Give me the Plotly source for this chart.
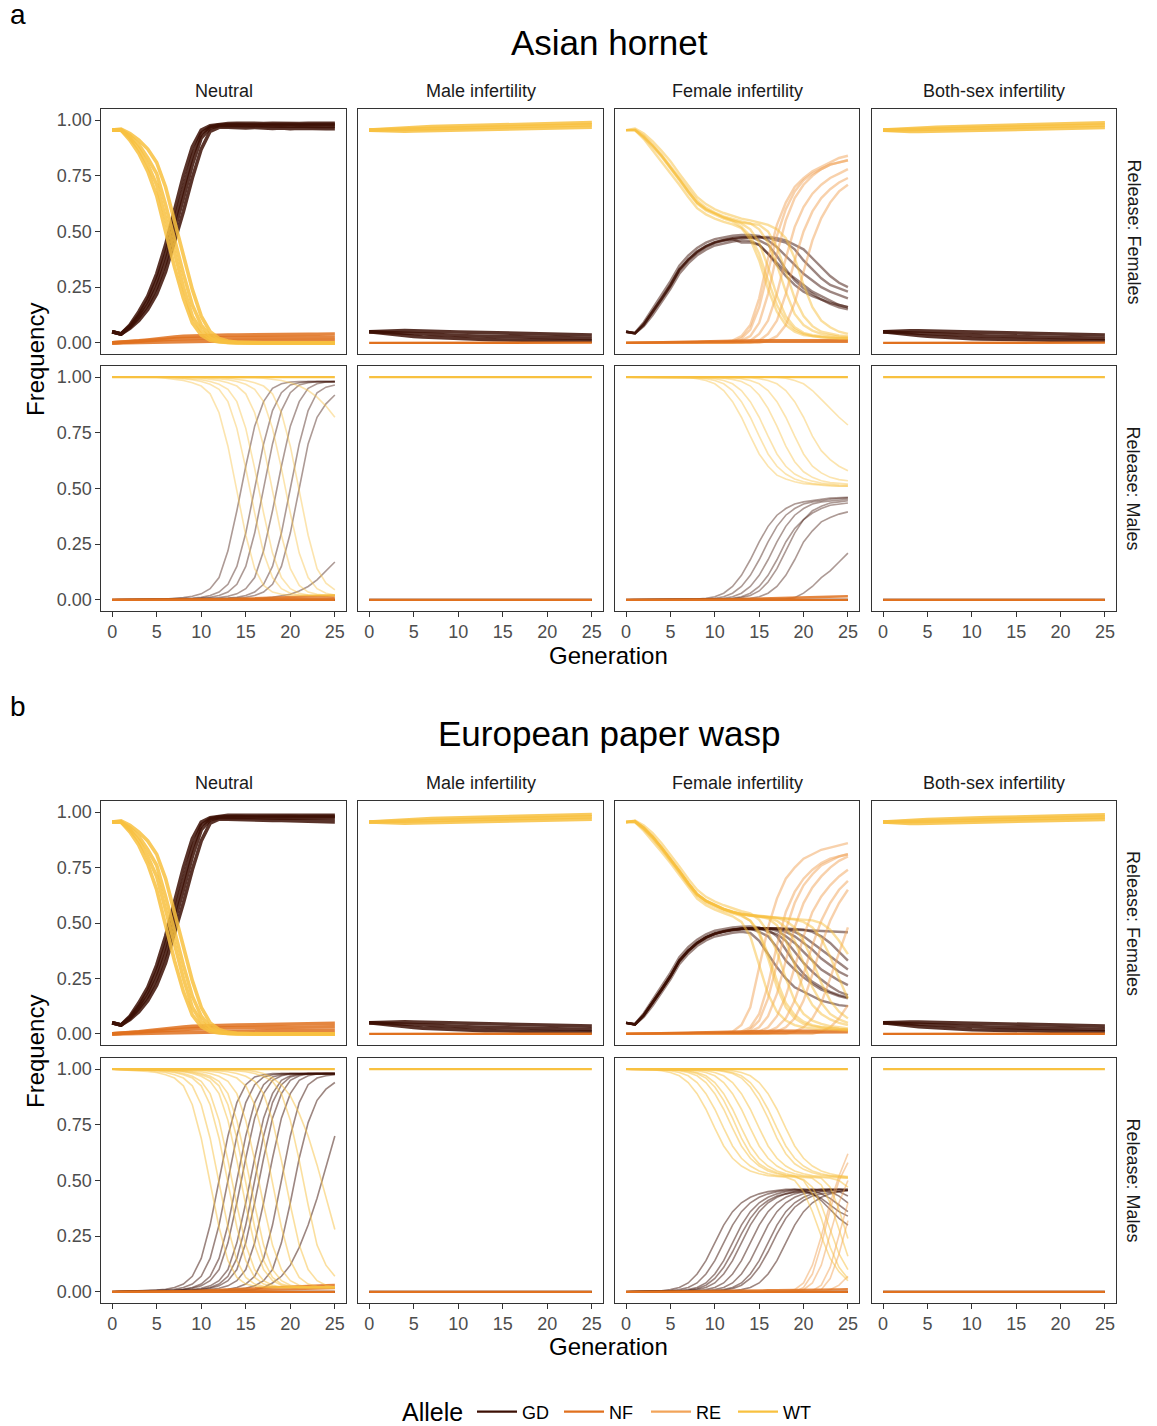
import plotly.graph_objects as go

W, H = 1157, 1426

# ---------------- categories / ticks ----------------
GEN = [0, 1, 2, 3, 4, 5, 6, 7, 8, 9, 10, 11, 12, 13, 14, 15, 16, 17, 18, 19, 20, 21, 22, 23, 24, 25]
X_TICKS = [0, 5, 10, 15, 20, 25]
Y_TICKS = [0.0, 0.25, 0.5, 0.75, 1.0]
Y_TICK_LABELS = ["0.00", "0.25", "0.50", "0.75", "1.00"]
SPECIES = ["Asian hornet", "European paper wasp"]
PANEL_TAGS = ["a", "b"]
TREATMENTS = ["Neutral", "Male infertility", "Female infertility", "Both-sex infertility"]
RELEASES = ["Release: Females", "Release: Males"]
ALLELES = ["GD", "NF", "RE", "WT"]
LEGEND_TITLE = "Allele"
COLORS = {"GD": "#3D1005", "NF": "#E0711F", "RE": "#F2A45A", "WT": "#F8C140"}

# ---------------- flat (no spread) ----------------
flat_WT = [[1, 1, 1, 1, 1, 1, 1, 1, 1, 1, 1, 1, 1, 1, 1, 1, 1, 1, 1, 1, 1, 1, 1, 1, 1, 1]]
flat_GD = [[0, 0, 0, 0, 0, 0, 0, 0, 0, 0, 0, 0, 0, 0, 0, 0, 0, 0, 0, 0, 0, 0, 0, 0, 0, 0]]
flat_NF = [[0, 0, 0, 0, 0, 0, 0, 0, 0, 0, 0, 0, 0, 0, 0, 0, 0, 0, 0, 0, 0, 0, 0, 0, 0, 0]]

# ---------------- Asian hornet, release females ----------------
hornet_F_neu_WT = [
    [.955, .955, .91, .85, .77, .66, .50, .34, .20, .09, .035, .012, .004, 0, 0, 0, 0, 0, 0, 0, 0, 0, 0, 0, 0, 0],
    [.955, .955, .92, .87, .80, .71, .56, .40, .25, .12, .055, .02, .007, .002, 0, 0, 0, 0, 0, 0, 0, 0, 0, 0, 0, 0],
    [.955, .955, .93, .89, .83, .76, .62, .46, .31, .17, .08, .03, .01, .003, .001, 0, 0, 0, 0, 0, 0, 0, 0, 0, 0, 0],
    [.955, .96, .94, .91, .87, .81, .70, .55, .39, .24, .12, .05, .02, .008, .003, .001, 0, 0, 0, 0, 0, 0, 0, 0, 0, 0],
]
hornet_F_neu_GD = [
    [.05, .04, .08, .14, .21, .31, .44, .60, .75, .88, .955, .975, .982, .985, .986, .985, .986, .985, .986, .985, .986, .985, .986, .985, .986, .986],
    [.05, .04, .075, .125, .19, .28, .40, .55, .70, .84, .94, .97, .978, .98, .98, .979, .98, .98, .979, .98, .98, .979, .98, .98, .979, .98],
    [.05, .04, .07, .115, .17, .25, .36, .50, .65, .80, .92, .965, .975, .976, .975, .974, .975, .973, .974, .973, .974, .972, .973, .972, .972, .972],
    [.05, .04, .065, .10, .15, .22, .32, .45, .59, .74, .87, .95, .968, .968, .966, .965, .967, .964, .963, .965, .962, .964, .962, .963, .961, .962],
]
hornet_F_neu_NF = [
    [0, .001, .002, .003, .004, .005, .006, .007, .008, .008, .009, .009, .01, .01, .01, .01, .01, .01, .01, .01, .01, .01, .01, .01, .01, .01],
    [0, .002, .004, .006, .009, .012, .015, .018, .02, .021, .022, .022, .023, .023, .023, .023, .024, .024, .024, .024, .024, .024, .024, .024, .024, .024],
    [0, .002, .005, .009, .013, .018, .022, .026, .029, .031, .032, .033, .034, .035, .035, .036, .036, .037, .037, .038, .038, .038, .039, .039, .04, .04],
]
hornet_F_male_WT = [
    [.955, .958, .961, .963, .965, .967, .969, .971, .972, .973, .974, .975, .976, .977, .978, .979, .98, .981, .982, .983, .984, .985, .986, .987, .988, .989],
    [.955, .956, .957, .958, .959, .960, .961, .962, .963, .964, .965, .966, .967, .968, .969, .970, .971, .972, .973, .974, .975, .976, .977, .978, .978, .979],
    [.955, .953, .952, .951, .950, .951, .952, .953, .953, .954, .955, .956, .957, .958, .959, .960, .961, .962, .962, .963, .964, .965, .966, .967, .967, .968],
]
hornet_F_male_GD = [
    [.05, .052, .054, .055, .055, .054, .054, .053, .052, .05, .049, .048, .047, .046, .045, .044, .043, .042, .041, .04, .039, .038, .037, .036, .035, .035],
    [.05, .048, .046, .044, .042, .04, .038, .036, .035, .034, .033, .032, .031, .03, .029, .028, .027, .026, .025, .024, .023, .022, .022, .021, .02, .02],
    [.05, .045, .04, .036, .032, .029, .026, .024, .022, .02, .018, .017, .016, .015, .014, .013, .012, .011, .011, .01, .01, .009, .009, .008, .008, .008],
]
hornet_F_male_NF = [
    [0, 0, .001, .001, .001, .001, .001, .001, .001, .001, .001, .001, .001, .001, .001, .001, .001, .001, .001, .001, .001, .001, .001, .001, .001, .001],
]
hornet_F_both_WT = [
    [.955, .958, .96, .962, .964, .966, .968, .97, .971, .972, .973, .974, .975, .976, .977, .978, .979, .98, .981, .982, .983, .984, .985, .986, .987, .988],
    [.955, .955, .956, .957, .958, .959, .96, .961, .962, .963, .964, .965, .966, .967, .968, .969, .97, .971, .972, .973, .974, .975, .976, .977, .977, .978],
    [.955, .952, .95, .949, .949, .95, .951, .952, .953, .954, .955, .956, .957, .957, .958, .959, .96, .961, .962, .963, .964, .964, .965, .966, .967, .967],
]
hornet_F_both_GD = [
    [.05, .052, .053, .054, .054, .053, .053, .052, .051, .05, .049, .048, .047, .046, .045, .044, .043, .042, .041, .04, .039, .038, .037, .036, .036, .035],
    [.05, .048, .046, .044, .042, .04, .038, .037, .035, .034, .033, .032, .031, .03, .029, .028, .027, .026, .025, .024, .024, .023, .022, .021, .021, .02],
    [.05, .045, .041, .037, .033, .03, .027, .025, .023, .021, .019, .018, .017, .016, .015, .014, .013, .012, .012, .011, .011, .01, .01, .009, .009, .009],
]
hornet_F_both_NF = [
    [0, 0, .001, .001, .001, .001, .001, .001, .001, .001, .001, .001, .001, .001, .001, .001, .001, .001, .001, .001, .001, .001, .001, .001, .001, .001],
]
hornet_F_fem_WT = [
    [.955, .955, .915, .865, .815, .765, .71, .655, .605, .577, .558, .543, .532, .515, .465, .37, .24, .14, .08, .05, .035, .03, .025, .022, .02, .02],
    [.955, .955, .925, .885, .84, .79, .735, .68, .63, .60, .58, .563, .55, .535, .51, .45, .34, .21, .12, .07, .045, .035, .03, .025, .022, .02],
    [.955, .958, .93, .89, .845, .795, .742, .69, .64, .607, .585, .568, .555, .545, .537, .51, .45, .35, .23, .13, .08, .055, .04, .033, .028, .025],
    [.955, .955, .925, .885, .84, .79, .735, .68, .63, .60, .58, .563, .55, .54, .535, .53, .50, .43, .32, .20, .12, .075, .05, .04, .033, .03],
    [.955, .962, .94, .905, .862, .815, .76, .705, .655, .623, .60, .583, .57, .558, .55, .54, .53, .51, .47, .38, .26, .16, .10, .07, .05, .04],
    [.955, .955, .92, .88, .835, .785, .73, .675, .625, .595, .575, .558, .545, .52, .48, .40, .28, .17, .10, .06, .04, .03, .025, .022, .02, .02],
]
hornet_F_fem_GD = [
    [.05, .042, .075, .125, .183, .243, .31, .357, .393, .418, .437, .447, .455, .46, .458, .44, .40, .36, .32, .29, .26, .23, .21, .19, .17, .16],
    [.05, .043, .085, .14, .20, .26, .33, .375, .41, .435, .452, .462, .47, .474, .475, .46, .44, .39, .33, .28, .245, .22, .195, .175, .16, .15],
    [.05, .045, .093, .153, .215, .277, .347, .392, .426, .45, .466, .475, .481, .484, .485, .48, .46, .43, .39, .35, .31, .28, .25, .23, .215, .20],
    [.05, .043, .085, .14, .20, .26, .33, .375, .41, .435, .452, .462, .47, .474, .475, .475, .47, .46, .45, .42, .37, .33, .29, .26, .245, .23],
    [.05, .042, .08, .135, .195, .255, .325, .37, .405, .43, .448, .458, .465, .47, .472, .474, .475, .47, .46, .44, .42, .38, .34, .30, .27, .25],
    [.05, .043, .082, .138, .198, .258, .328, .372, .407, .432, .45, .46, .466, .45, .45, .44, .40, .35, .30, .26, .23, .21, .195, .18, .17, .16],
]
hornet_F_fem_RE = [
    [0, 0, 0, 0, 0, 0, 0, 0, 0, 0, 0, .005, .01, .03, .08, .20, .38, .53, .63, .70, .74, .77, .79, .81, .83, .84],
    [0, 0, 0, 0, 0, 0, 0, 0, 0, 0, 0, 0, 0, .01, .03, .09, .22, .40, .55, .65, .71, .75, .78, .80, .81, .82],
    [0, 0, 0, 0, 0, 0, 0, 0, 0, 0, 0, 0, 0, 0, .01, .04, .10, .22, .38, .52, .61, .67, .71, .74, .76, .78],
    [0, 0, 0, 0, 0, 0, 0, 0, 0, 0, 0, 0, 0, 0, 0, .01, .04, .10, .22, .37, .50, .59, .65, .69, .72, .74],
    [0, 0, 0, 0, 0, 0, 0, 0, 0, 0, 0, 0, 0, 0, 0, 0, .01, .03, .08, .18, .32, .46, .56, .63, .68, .71],
    [0, 0, 0, 0, 0, 0, 0, 0, 0, 0, 0, 0, .005, .02, .06, .16, .32, .48, .60, .68, .73, .76, .78, .80, .81, .82],
]
hornet_F_fem_NF = [
    [0, .001, .002, .003, .004, .005, .006, .007, .008, .009, .01, .01, .011, .011, .012, .012, .012, .012, .012, .012, .012, .012, .012, .012, .012, .012],
    [0, 0, .001, .001, .002, .002, .003, .003, .003, .004, .004, .004, .005, .005, .005, .005, .005, .005, .005, .005, .005, .005, .005, .005, .005, .005],
]

# ---------------- Asian hornet, release males ----------------
hornet_M_neu_GD = [
    [0, 0, .001, .001, .002, .003, .004, .006, .01, .016, .027, .05, .10, .22, .40, .60, .78, .89, .95, .97, .978, .98, .98, .98, .98, .98],
    [0, 0, .001, .001, .002, .003, .004, .005, .005, .008, .012, .02, .035, .07, .15, .30, .50, .70, .85, .93, .965, .975, .98, .98, .98, .98],
    [0, 0, .001, .001, .002, .002, .003, .004, .004, .005, .008, .012, .02, .035, .07, .15, .30, .50, .70, .85, .93, .965, .975, .98, .98, .98],
    [0, 0, .001, .001, .001, .002, .002, .003, .003, .004, .005, .006, .01, .016, .027, .05, .10, .22, .40, .60, .78, .89, .95, .97, .978, .98],
    [0, 0, 0, .001, .001, .001, .002, .002, .002, .003, .003, .004, .005, .008, .012, .02, .035, .07, .15, .30, .50, .70, .85, .93, .955, .965],
    [0, 0, 0, .001, .001, .001, .001, .002, .002, .002, .003, .003, .004, .005, .008, .012, .02, .035, .07, .15, .30, .50, .70, .82, .88, .92],
    [0, 0, 0, 0, 0, 0, .001, .001, .001, .001, .002, .002, .002, .003, .003, .004, .005, .008, .012, .018, .025, .04, .06, .09, .13, .17],
    [0, 0, 0, 0, 0, 0, 0, 0, 0, 0, 0, 0, 0, 0, 0, 0, 0, 0, 0, 0, 0, 0, 0, 0, 0, 0],
]
hornet_M_neu_WT = [
    [1, 1, 1, 1, 1, 1, .995, .99, .985, .975, .96, .925, .84, .69, .49, .29, .14, .065, .035, .025, .02, .02, .02, .02, .02, .02],
    [1, 1, 1, 1, 1, 1, 1, .996, .992, .988, .98, .968, .945, .89, .77, .59, .39, .21, .10, .05, .03, .022, .02, .02, .02, .02],
    [1, 1, 1, 1, 1, 1, 1, 1, .996, .992, .988, .98, .968, .945, .89, .77, .59, .39, .21, .10, .05, .03, .022, .02, .02, .02],
    [1, 1, 1, 1, 1, 1, 1, 1, 1, 1, .995, .99, .985, .975, .96, .925, .84, .69, .49, .29, .14, .065, .035, .025, .02, .02],
    [1, 1, 1, 1, 1, 1, 1, 1, 1, 1, 1, .996, .992, .988, .98, .968, .945, .89, .77, .59, .39, .21, .10, .05, .03, .022],
    [1, 1, 1, 1, 1, 1, 1, 1, 1, 1, 1, 1, 1, .995, .99, .985, .975, .96, .925, .84, .69, .49, .29, .14, .075, .045],
    [1, 1, 1, 1, 1, 1, 1, 1, 1, 1, 1, 1, 1, 1, 1, 1, .998, .995, .99, .985, .975, .96, .94, .91, .87, .82],
    [1, 1, 1, 1, 1, 1, 1, 1, 1, 1, 1, 1, 1, 1, 1, 1, 1, 1, 1, 1, 1, 1, 1, 1, 1, 1],
]
hornet_M_neu_NF = [
    [0, 0, 0, 0, 0, 0, 0, 0, .001, .001, .002, .002, .003, .004, .005, .006, .007, .008, .01, .012, .014, .015, .016, .017, .018, .019],
    [0, 0, 0, 0, 0, 0, 0, 0, 0, 0, 0, 0, .001, .001, .002, .002, .003, .003, .004, .005, .005, .006, .006, .007, .007, .008],
    [0, 0, 0, 0, 0, 0, 0, 0, 0, 0, 0, 0, 0, 0, 0, 0, 0, 0, 0, 0, 0, 0, 0, 0, 0, 0],
]
hornet_M_fem_GD = [
    [0, 0, 0, .001, .001, .002, .002, .003, .004, .007, .014, .03, .06, .11, .18, .26, .33, .38, .41, .43, .44, .447, .452, .457, .46, .46],
    [0, 0, 0, 0, .001, .001, .002, .002, .003, .004, .007, .014, .03, .06, .11, .18, .26, .33, .38, .41, .43, .44, .447, .452, .455, .458],
    [0, 0, 0, 0, 0, .001, .001, .002, .002, .003, .004, .007, .014, .03, .06, .11, .18, .26, .33, .38, .41, .43, .44, .445, .45, .452],
    [0, 0, 0, 0, 0, 0, .001, .001, .001, .002, .002, .003, .005, .01, .02, .04, .08, .14, .22, .30, .36, .40, .42, .435, .44, .445],
    [0, 0, 0, 0, 0, 0, 0, .001, .001, .001, .002, .002, .003, .004, .007, .014, .03, .06, .11, .18, .26, .31, .35, .37, .385, .395],
    [0, 0, 0, 0, 0, 0, 0, 0, 0, .001, .001, .001, .001, .002, .002, .002, .003, .003, .005, .01, .03, .06, .10, .13, .17, .21],
    [0, 0, 0, 0, 0, .001, .001, .001, .002, .002, .003, .004, .007, .014, .03, .06, .11, .18, .26, .32, .36, .39, .41, .425, .43, .435],
    [0, 0, 0, 0, 0, 0, 0, 0, 0, 0, 0, 0, 0, 0, 0, 0, 0, 0, 0, 0, 0, 0, 0, 0, 0, 0],
]
hornet_M_fem_WT = [
    [1, 1, 1, 1, 1, 1, 1, .998, .993, .985, .97, .94, .89, .82, .735, .655, .60, .56, .543, .53, .522, .518, .515, .512, .51, .51],
    [1, 1, 1, 1, 1, 1, 1, 1, .997, .993, .985, .97, .94, .89, .82, .735, .655, .60, .565, .543, .53, .522, .518, .515, .512, .51],
    [1, 1, 1, 1, 1, 1, 1, 1, 1, .997, .993, .985, .97, .94, .89, .82, .735, .655, .60, .565, .545, .533, .525, .52, .517, .515],
    [1, 1, 1, 1, 1, 1, 1, 1, 1, 1, 1, .995, .99, .98, .96, .92, .86, .78, .69, .62, .575, .55, .535, .527, .522, .52],
    [1, 1, 1, 1, 1, 1, 1, 1, 1, 1, 1, 1, .997, .993, .985, .97, .94, .89, .82, .735, .655, .60, .57, .55, .54, .535],
    [1, 1, 1, 1, 1, 1, 1, 1, 1, 1, 1, 1, 1, 1, .997, .993, .985, .97, .94, .89, .82, .735, .67, .63, .60, .58],
    [1, 1, 1, 1, 1, 1, 1, 1, 1, 1, 1, 1, 1, 1, 1, 1, 1, 1, .995, .985, .97, .94, .90, .86, .82, .785],
    [1, 1, 1, 1, 1, 1, 1, 1, 1, 1, 1, 1, 1, 1, 1, 1, 1, 1, 1, 1, 1, 1, 1, 1, 1, 1],
]
hornet_M_fem_NF = [
    [0, 0, 0, 0, 0, 0, 0, .001, .001, .002, .002, .003, .003, .004, .005, .006, .007, .008, .009, .01, .011, .012, .013, .014, .015, .016],
    [0, 0, 0, 0, 0, 0, 0, 0, 0, 0, 0, 0, 0, 0, 0, 0, 0, 0, 0, 0, 0, 0, 0, 0, 0, 0],
]

# ---------------- European paper wasp, release females ----------------
wasp_F_neu_WT = [
    [.955, .955, .91, .85, .765, .65, .49, .33, .19, .085, .033, .011, .004, 0, 0, 0, 0, 0, 0, 0, 0, 0, 0, 0, 0, 0],
    [.955, .955, .92, .87, .80, .71, .56, .40, .25, .12, .055, .02, .007, .002, 0, 0, 0, 0, 0, 0, 0, 0, 0, 0, 0, 0],
    [.955, .955, .93, .89, .83, .76, .62, .46, .31, .17, .08, .03, .01, .003, .001, 0, 0, 0, 0, 0, 0, 0, 0, 0, 0, 0],
    [.955, .96, .94, .91, .87, .81, .70, .55, .39, .24, .12, .05, .02, .008, .003, .001, 0, 0, 0, 0, 0, 0, 0, 0, 0, 0],
]
wasp_F_neu_GD = [
    [.05, .04, .08, .14, .21, .31, .44, .60, .75, .88, .955, .975, .982, .985, .986, .985, .986, .985, .986, .985, .986, .985, .986, .985, .986, .986],
    [.05, .04, .075, .125, .19, .28, .40, .55, .70, .84, .94, .97, .978, .98, .98, .979, .98, .98, .979, .98, .98, .979, .98, .98, .979, .98],
    [.05, .04, .07, .115, .17, .25, .36, .50, .65, .80, .92, .965, .975, .976, .975, .974, .975, .973, .974, .973, .974, .972, .973, .972, .972, .972],
    [.05, .04, .065, .10, .15, .22, .32, .45, .59, .74, .87, .95, .968, .968, .966, .965, .965, .963, .962, .962, .96, .961, .959, .958, .957, .956],
]
wasp_F_neu_NF = [
    [0, .001, .002, .003, .004, .005, .006, .007, .008, .009, .01, .011, .012, .012, .013, .013, .014, .014, .014, .015, .015, .015, .015, .016, .016, .016],
    [0, .002, .004, .007, .01, .013, .016, .019, .022, .024, .025, .026, .027, .027, .028, .028, .029, .029, .03, .03, .03, .031, .031, .031, .032, .032],
    [0, .002, .005, .009, .014, .019, .024, .028, .031, .034, .036, .037, .038, .039, .04, .041, .042, .043, .044, .045, .045, .046, .046, .047, .047, .048],
]
wasp_F_fem_WT = [
    [.955, .955, .915, .87, .82, .77, .715, .66, .61, .58, .56, .545, .53, .505, .44, .31, .18, .10, .06, .04, .03, .025, .02, .02, .018, .015],
    [.955, .96, .93, .89, .84, .79, .735, .68, .63, .60, .58, .563, .55, .535, .51, .45, .34, .21, .12, .07, .045, .035, .03, .025, .022, .02],
    [.955, .962, .94, .905, .86, .81, .755, .70, .65, .618, .597, .58, .566, .553, .543, .515, .46, .37, .25, .15, .09, .06, .045, .035, .03, .025],
    [.955, .958, .928, .888, .838, .788, .733, .678, .628, .598, .578, .561, .548, .538, .532, .528, .52, .49, .42, .31, .20, .13, .09, .065, .05, .04],
    [.955, .955, .925, .885, .84, .79, .735, .68, .63, .60, .58, .563, .55, .54, .535, .53, .525, .51, .48, .42, .32, .21, .14, .09, .065, .05],
    [.955, .96, .93, .89, .84, .79, .735, .68, .63, .60, .58, .563, .55, .54, .535, .53, .527, .522, .51, .48, .42, .33, .23, .15, .10, .07],
    [.955, .958, .93, .89, .842, .792, .737, .682, .632, .602, .582, .565, .552, .542, .537, .532, .528, .524, .52, .515, .505, .48, .43, .35, .25, .16],
    [.955, .957, .927, .887, .838, .788, .733, .678, .628, .598, .578, .561, .548, .54, .535, .53, .527, .524, .521, .518, .515, .512, .50, .47, .42, .36],
    [.955, .955, .922, .88, .832, .782, .728, .672, .622, .592, .572, .555, .543, .532, .51, .46, .36, .24, .14, .085, .055, .04, .03, .025, .022, .02],
]
wasp_F_fem_GD = [
    [.05, .042, .077, .128, .186, .246, .314, .36, .396, .421, .439, .449, .456, .46, .455, .42, .36, .30, .25, .21, .19, .17, .15, .14, .13, .125],
    [.05, .043, .085, .14, .20, .26, .33, .375, .41, .435, .452, .462, .47, .474, .475, .46, .44, .39, .33, .29, .255, .225, .20, .185, .17, .16],
    [.05, .045, .093, .152, .214, .276, .346, .391, .425, .449, .465, .474, .48, .483, .484, .48, .46, .45, .42, .37, .32, .28, .245, .215, .19, .175],
    [.05, .043, .084, .139, .199, .259, .329, .374, .409, .434, .451, .461, .469, .473, .475, .476, .475, .465, .44, .41, .37, .33, .29, .265, .24, .22],
    [.05, .043, .085, .14, .20, .26, .33, .375, .41, .435, .452, .462, .47, .474, .475, .476, .476, .47, .46, .44, .41, .38, .34, .31, .28, .26],
    [.05, .043, .085, .14, .20, .26, .33, .375, .41, .435, .452, .462, .47, .474, .475, .476, .476, .474, .47, .46, .44, .41, .38, .35, .32, .29],
    [.05, .044, .087, .142, .202, .262, .332, .377, .412, .437, .454, .464, .471, .474, .475, .476, .476, .476, .475, .474, .47, .46, .44, .41, .37, .33],
    [.05, .043, .084, .139, .199, .259, .329, .374, .409, .434, .451, .461, .469, .474, .475, .476, .476, .475, .472, .47, .468, .466, .465, .463, .46, .458],
    [.05, .043, .083, .138, .198, .258, .328, .373, .408, .433, .45, .46, .467, .47, .47, .47, .47, .44, .38, .32, .27, .235, .21, .19, .175, .165],
]
wasp_F_fem_RE = [
    [0, 0, 0, 0, 0, 0, 0, 0, 0, 0, 0, .005, .01, .04, .12, .30, .48, .61, .70, .75, .79, .81, .83, .84, .85, .86],
    [0, 0, 0, 0, 0, 0, 0, 0, 0, 0, 0, 0, 0, .01, .03, .09, .22, .40, .55, .64, .70, .74, .77, .79, .80, .81],
    [0, 0, 0, 0, 0, 0, 0, 0, 0, 0, 0, 0, 0, 0, .01, .03, .08, .18, .33, .48, .59, .66, .71, .75, .78, .80],
    [0, 0, 0, 0, 0, 0, 0, 0, 0, 0, 0, 0, 0, 0, 0, .01, .03, .08, .17, .30, .44, .55, .62, .67, .71, .74],
    [0, 0, 0, 0, 0, 0, 0, 0, 0, 0, 0, 0, 0, 0, 0, 0, .01, .03, .07, .15, .27, .40, .51, .59, .65, .69],
    [0, 0, 0, 0, 0, 0, 0, 0, 0, 0, 0, 0, 0, 0, 0, 0, 0, .01, .03, .07, .15, .27, .40, .51, .59, .65],
    [0, 0, 0, 0, 0, 0, 0, 0, 0, 0, 0, 0, 0, 0, 0, 0, 0, 0, 0, .01, .03, .07, .14, .25, .37, .48],
    [0, 0, 0, 0, 0, 0, 0, 0, 0, 0, 0, 0, 0, 0, 0, 0, 0, 0, 0, 0, 0, 0, .01, .03, .07, .13],
    [0, 0, 0, 0, 0, 0, 0, 0, 0, 0, 0, 0, 0, 0, .02, .06, .16, .31, .47, .59, .67, .72, .76, .78, .80, .81],
]
wasp_F_fem_NF = [
    [0, .001, .002, .003, .004, .005, .006, .007, .008, .009, .01, .011, .012, .012, .013, .013, .014, .014, .014, .015, .015, .015, .015, .015, .015, .015],
    [0, 0, .001, .001, .002, .002, .003, .003, .004, .004, .005, .005, .005, .006, .006, .006, .006, .006, .007, .007, .007, .007, .007, .007, .007, .007],
]

# ---------------- European paper wasp, release males ----------------
wasp_M_neu_GD = [
    [0, .001, .002, .003, .005, .008, .012, .02, .035, .07, .15, .30, .50, .70, .85, .93, .965, .975, .98, .98, .98, .98, .98, .98, .98, .98],
    [0, .001, .002, .003, .004, .005, .008, .012, .02, .035, .07, .15, .30, .50, .70, .85, .93, .965, .975, .98, .98, .98, .98, .98, .98, .98],
    [0, .001, .001, .002, .003, .004, .005, .008, .012, .02, .035, .07, .15, .30, .50, .70, .85, .93, .965, .975, .98, .98, .98, .98, .98, .98],
    [0, 0, .001, .002, .003, .004, .004, .006, .01, .016, .027, .05, .10, .22, .40, .60, .78, .89, .95, .97, .978, .98, .98, .98, .98, .98],
    [0, 0, .001, .001, .002, .003, .003, .004, .006, .01, .016, .027, .05, .10, .22, .40, .60, .78, .89, .95, .97, .978, .98, .98, .98, .98],
    [0, 0, .001, .001, .002, .003, .004, .005, .005, .008, .012, .02, .035, .07, .15, .30, .50, .70, .85, .93, .965, .975, .98, .98, .98, .98],
    [0, 0, 0, .001, .001, .002, .002, .003, .004, .006, .01, .016, .027, .05, .10, .22, .40, .60, .78, .89, .95, .97, .978, .98, .98, .98],
    [0, 0, 0, 0, .001, .001, .002, .002, .003, .004, .006, .01, .016, .027, .05, .10, .22, .40, .60, .78, .89, .95, .97, .978, .98, .98],
    [0, 0, 0, 0, 0, .001, .001, .002, .002, .003, .004, .005, .008, .012, .02, .035, .07, .15, .30, .50, .70, .85, .93, .96, .97, .975],
    [0, 0, 0, 0, 0, 0, .001, .001, .001, .002, .002, .003, .004, .006, .01, .016, .027, .05, .10, .22, .40, .60, .76, .86, .91, .94],
    [0, 0, 0, 0, 0, 0, 0, .001, .001, .001, .002, .002, .002, .003, .004, .006, .01, .02, .04, .07, .12, .20, .30, .42, .56, .70],
    [0, 0, 0, 0, 0, 0, 0, 0, 0, 0, 0, 0, 0, 0, 0, 0, 0, 0, 0, 0, 0, 0, 0, 0, 0, 0],
]
wasp_M_neu_WT = [
    [1, .998, .997, .995, .99, .985, .975, .96, .925, .84, .69, .49, .29, .14, .065, .035, .025, .02, .02, .02, .02, .02, .02, .02, .02, .02],
    [1, .999, .998, .997, .995, .99, .985, .975, .96, .925, .84, .69, .49, .29, .14, .065, .035, .025, .02, .02, .02, .02, .02, .02, .02, .02],
    [1, 1, .999, .998, .997, .995, .99, .985, .975, .96, .925, .84, .69, .49, .29, .14, .065, .035, .025, .02, .02, .02, .02, .02, .02, .02],
    [1, 1, .999, .998, .997, .996, .992, .988, .98, .968, .945, .89, .77, .59, .39, .21, .10, .05, .03, .022, .02, .02, .02, .02, .02, .02],
    [1, 1, 1, .999, .998, .997, .996, .992, .988, .98, .968, .945, .89, .77, .59, .39, .21, .10, .05, .03, .022, .02, .02, .02, .02, .02],
    [1, 1, 1, 1, 1, .999, .998, .995, .99, .985, .975, .96, .925, .84, .69, .49, .29, .14, .065, .035, .025, .02, .02, .02, .02, .02],
    [1, 1, 1, 1, .999, .998, .997, .996, .992, .988, .98, .968, .945, .89, .77, .59, .39, .21, .10, .05, .03, .022, .02, .02, .02, .02],
    [1, 1, 1, 1, 1, .999, .998, .997, .996, .992, .988, .98, .968, .945, .89, .77, .59, .39, .21, .10, .05, .03, .022, .02, .02, .02],
    [1, 1, 1, 1, 1, 1, 1, .999, .998, .997, .995, .99, .985, .975, .96, .925, .84, .69, .49, .29, .14, .065, .035, .025, .02, .02],
    [1, 1, 1, 1, 1, 1, 1, 1, 1, .999, .998, .996, .992, .988, .98, .968, .945, .89, .77, .59, .39, .21, .10, .05, .03, .022],
    [1, 1, 1, 1, 1, 1, 1, 1, 1, 1, 1, .999, .998, .996, .992, .988, .98, .968, .945, .89, .77, .59, .39, .21, .12, .07],
    [1, 1, 1, 1, 1, 1, 1, 1, 1, 1, 1, 1, 1, 1, .998, .995, .99, .98, .96, .93, .88, .80, .70, .57, .43, .28],
    [1, 1, 1, 1, 1, 1, 1, 1, 1, 1, 1, 1, 1, 1, 1, 1, 1, 1, 1, 1, 1, 1, 1, 1, 1, 1],
]
wasp_M_neu_NF = [
    [0, 0, 0, 0, 0, .001, .001, .002, .003, .004, .005, .007, .009, .011, .013, .015, .017, .019, .021, .023, .025, .027, .028, .029, .03, .031],
    [0, 0, 0, 0, 0, 0, 0, .001, .001, .002, .002, .003, .004, .005, .006, .007, .008, .009, .01, .011, .012, .013, .014, .015, .016, .017],
    [0, 0, 0, 0, 0, 0, 0, 0, 0, 0, 0, 0, 0, 0, 0, 0, 0, 0, 0, 0, 0, 0, 0, 0, 0, 0],
]
wasp_M_fem_WT = [
    [1, 1, .999, .997, .993, .985, .97, .94, .89, .82, .735, .655, .60, .565, .543, .53, .522, .518, .515, .50, .45, .36, .25, .15, .09, .05],
    [1, 1, 1, .999, .997, .993, .985, .97, .94, .89, .82, .735, .655, .60, .565, .543, .53, .522, .518, .515, .505, .47, .39, .28, .17, .10],
    [1, 1, 1, 1, .999, .997, .993, .985, .97, .94, .89, .82, .735, .655, .60, .565, .543, .53, .522, .518, .515, .51, .48, .40, .28, .16],
    [1, 1, 1, 1, 1, .999, .997, .993, .985, .97, .94, .89, .82, .735, .655, .60, .565, .543, .53, .522, .518, .515, .51, .47, .37, .24],
    [1, 1, 1, 1, 1, 1, .999, .997, .993, .985, .97, .94, .89, .82, .735, .655, .60, .565, .543, .53, .522, .518, .515, .51, .50, .47],
    [1, 1, 1, 1, 1, 1, 1, .999, .997, .993, .985, .97, .94, .89, .82, .735, .655, .60, .565, .543, .53, .522, .518, .515, .512, .51],
    [1, 1, 1, 1, 1, 1, 1, 1, 1, .998, .995, .99, .98, .96, .92, .86, .78, .69, .62, .575, .55, .535, .525, .52, .515, .512],
    [1, 1, 1, 1, 1, 1, 1, 1, 1, 1, 1, .997, .993, .985, .97, .94, .89, .82, .735, .655, .60, .565, .543, .53, .522, .518],
    [1, 1, 1, 1, .999, .998, .995, .99, .98, .96, .92, .86, .78, .69, .62, .575, .55, .535, .525, .52, .50, .44, .33, .20, .11, .06],
    [1, 1, 1, 1, 1, 1, 1, 1, 1, .999, .997, .993, .985, .97, .94, .89, .82, .735, .655, .60, .565, .543, .53, .522, .518, .515],
    [1, 1, 1, 1, 1, 1, 1, 1, 1, 1, 1, 1, 1, 1, 1, 1, 1, 1, 1, 1, 1, 1, 1, 1, 1, 1],
]
wasp_M_fem_GD = [
    [0, .001, .001, .002, .005, .01, .02, .04, .08, .14, .22, .30, .36, .40, .425, .44, .45, .455, .46, .46, .455, .44, .41, .37, .33, .30],
    [0, .001, .001, .002, .003, .005, .01, .02, .04, .08, .14, .22, .30, .36, .40, .425, .44, .45, .455, .46, .46, .455, .44, .42, .39, .36],
    [0, 0, .001, .001, .002, .003, .005, .01, .02, .04, .08, .14, .22, .30, .36, .40, .425, .44, .45, .455, .46, .46, .455, .45, .43, .40],
    [0, 0, 0, .001, .001, .002, .003, .005, .01, .02, .04, .08, .14, .22, .30, .36, .40, .425, .44, .45, .455, .46, .46, .46, .45, .43],
    [0, 0, 0, .001, .001, .002, .003, .004, .005, .01, .02, .04, .08, .14, .22, .30, .36, .40, .425, .44, .45, .455, .46, .46, .46, .455],
    [0, 0, 0, 0, .001, .001, .002, .003, .004, .005, .01, .02, .04, .08, .14, .22, .30, .36, .40, .425, .44, .45, .455, .46, .46, .46],
    [0, 0, 0, 0, 0, 0, 0, .001, .002, .003, .004, .007, .014, .03, .06, .11, .18, .26, .33, .38, .41, .43, .44, .447, .452, .455],
    [0, 0, 0, 0, 0, 0, 0, 0, 0, 0, .001, .002, .005, .01, .02, .04, .08, .14, .22, .30, .36, .40, .425, .44, .45, .455],
    [0, 0, .001, .001, .002, .003, .004, .007, .014, .03, .06, .11, .18, .26, .33, .38, .41, .43, .44, .447, .45, .44, .42, .39, .36, .34],
    [0, 0, 0, 0, 0, 0, 0, 0, .001, .002, .005, .01, .02, .04, .08, .14, .22, .30, .36, .40, .425, .44, .45, .455, .46, .46],
    [0, 0, 0, 0, 0, 0, 0, 0, 0, 0, 0, 0, 0, 0, 0, 0, 0, 0, 0, 0, 0, 0, 0, 0, 0, 0],
]
wasp_M_fem_RE = [
    [0, 0, 0, 0, 0, 0, 0, 0, 0, 0, 0, 0, 0, 0, 0, 0, 0, 0, 0, .01, .04, .12, .25, .40, .52, .62],
    [0, 0, 0, 0, 0, 0, 0, 0, 0, 0, 0, 0, 0, 0, 0, 0, 0, 0, 0, 0, .01, .04, .12, .26, .40, .50],
    [0, 0, 0, 0, 0, 0, 0, 0, 0, 0, 0, 0, 0, 0, 0, 0, 0, 0, 0, 0, 0, .005, .03, .11, .25, .40],
    [0, 0, 0, 0, 0, 0, 0, 0, 0, 0, 0, 0, 0, 0, 0, 0, 0, 0, 0, 0, 0, 0, .01, .06, .17, .32],
    [0, 0, 0, 0, 0, 0, 0, 0, 0, 0, 0, 0, 0, 0, 0, 0, 0, 0, 0, 0, 0, 0, 0, .01, .03, .07],
    [0, 0, 0, 0, 0, 0, 0, 0, 0, 0, 0, 0, 0, 0, 0, 0, 0, 0, 0, 0, .02, .08, .21, .37, .50, .58],
]
wasp_M_fem_NF = [
    [0, 0, 0, .001, .001, .002, .002, .003, .003, .004, .004, .005, .005, .006, .006, .007, .007, .008, .008, .009, .009, .01, .01, .011, .011, .012],
    [0, 0, 0, 0, 0, 0, 0, 0, 0, 0, 0, 0, 0, 0, 0, 0, 0, 0, 0, 0, 0, 0, 0, 0, 0, 0],
]

# ---------------- panel table (species, release, treatment) ----------------
PANELS = {
    (0, 0, 0): {"GD": hornet_F_neu_GD, "NF": hornet_F_neu_NF, "WT": hornet_F_neu_WT},
    (0, 0, 1): {"GD": hornet_F_male_GD, "NF": hornet_F_male_NF, "WT": hornet_F_male_WT},
    (0, 0, 2): {"GD": hornet_F_fem_GD, "NF": hornet_F_fem_NF, "RE": hornet_F_fem_RE, "WT": hornet_F_fem_WT},
    (0, 0, 3): {"GD": hornet_F_both_GD, "NF": hornet_F_both_NF, "WT": hornet_F_both_WT},
    (0, 1, 0): {"GD": hornet_M_neu_GD, "NF": hornet_M_neu_NF, "WT": hornet_M_neu_WT},
    (0, 1, 1): {"GD": flat_GD, "NF": flat_NF, "WT": flat_WT},
    (0, 1, 2): {"GD": hornet_M_fem_GD, "NF": hornet_M_fem_NF, "WT": hornet_M_fem_WT},
    (0, 1, 3): {"GD": flat_GD, "NF": flat_NF, "WT": flat_WT},
    (1, 0, 0): {"GD": wasp_F_neu_GD, "NF": wasp_F_neu_NF, "WT": wasp_F_neu_WT},
    (1, 0, 1): {"GD": hornet_F_male_GD, "NF": hornet_F_male_NF, "WT": hornet_F_male_WT},
    (1, 0, 2): {"GD": wasp_F_fem_GD, "NF": wasp_F_fem_NF, "RE": wasp_F_fem_RE, "WT": wasp_F_fem_WT},
    (1, 0, 3): {"GD": hornet_F_both_GD, "NF": hornet_F_both_NF, "WT": hornet_F_both_WT},
    (1, 1, 0): {"GD": wasp_M_neu_GD, "NF": wasp_M_neu_NF, "WT": wasp_M_neu_WT},
    (1, 1, 1): {"GD": flat_GD, "NF": flat_NF, "WT": flat_WT},
    (1, 1, 2): {"GD": wasp_M_fem_GD, "NF": wasp_M_fem_NF, "RE": wasp_M_fem_RE, "WT": wasp_M_fem_WT},
    (1, 1, 3): {"GD": flat_GD, "NF": flat_NF, "WT": flat_WT},
}

# ---------------- layout geometry (pixels) ----------------
COL_PX = [(101, 346), (358, 603), (615, 859), (872, 1116)]
ROW_PX = [[(109, 354), (366, 611)], [(801, 1045), (1058, 1303)]]
STRIP_Y = [91, 783]
TITLE_Y = [42, 733]
TAG_Y = [15, 707]
GEN_TITLE_Y = [655, 1346]
FREQ_Y = [360, 1052]
LEGEND_Y = 1412

FONT = "Liberation Sans, Arial, Helvetica, sans-serif"
DARK = "#333333"


def fx(px):
    return px / W


def fy(py):
    return 1 - py / H


def line_style(species, release, treatment, allele, vals):
    if max(vals) - min(vals) < 0.003:
        return 2.4, 1.0
    if release == 0 and treatment != 2:
        return 3.6, 0.85
    if allele == "NF":
        return 2.4, 0.85
    if release == 0:
        return 2.4, 0.5
    return 1.6, (0.5 if species == 1 else 0.42)


fig = go.Figure()
layout_axes = {}
annotations = []

for (s, r, c), data in PANELS.items():
    k = s * 8 + r * 4 + c + 1
    xname = "x" if k == 1 else f"x{k}"
    yname = "y" if k == 1 else f"y{k}"
    for allele in ["GD", "RE", "NF", "WT"]:
        for vals in data.get(allele, []):
            w, op = line_style(s, r, c, allele, vals)
            fig.add_trace(go.Scatter(
                x=GEN, y=vals, mode="lines", xaxis=xname, yaxis=yname,
                line=dict(color=COLORS[allele], width=w), opacity=op,
                showlegend=False, hoverinfo="skip"))
    x0, x1 = COL_PX[c]
    y0, y1 = ROW_PX[s][r]
    xa = dict(domain=[fx(x0), fx(x1)], range=[-1.25, 26.25], anchor=yname,
              showline=True, mirror=True, linecolor=DARK, linewidth=1.1,
              showgrid=False, zeroline=False, tickvals=X_TICKS,
              ticktext=[str(t) for t in X_TICKS],
              tickfont=dict(family=FONT, size=18, color="#4D4D4D"))
    if r == 1:
        xa.update(ticks="outside", ticklen=4.5, tickwidth=1.1, tickcolor=DARK, showticklabels=True)
    else:
        xa.update(ticks="", showticklabels=False)
    ya = dict(domain=[fy(y1), fy(y0)], range=[-0.05, 1.05], anchor=xname,
              showline=True, mirror=True, linecolor=DARK, linewidth=1.1,
              showgrid=False, zeroline=False, tickvals=Y_TICKS, ticktext=Y_TICK_LABELS,
              tickfont=dict(family=FONT, size=18, color="#4D4D4D"))
    if c == 0:
        ya.update(ticks="outside", ticklen=4.5, tickwidth=1.1, tickcolor=DARK, showticklabels=True)
    else:
        ya.update(ticks="", showticklabels=False)
    layout_axes["xaxis" if k == 1 else f"xaxis{k}"] = xa
    layout_axes["yaxis" if k == 1 else f"yaxis{k}"] = ya

# legend entries
for allele in ALLELES:
    fig.add_trace(go.Scatter(x=[None], y=[None], mode="lines", name=allele,
                             line=dict(color=COLORS[allele], width=2.2), showlegend=True))


def ann(text, x, y, size, color="#000000", angle=0, xanchor="center"):
    annotations.append(dict(text=text, x=fx(x), y=fy(y), xref="paper", yref="paper",
                            showarrow=False, textangle=angle, xanchor=xanchor, yanchor="middle",
                            font=dict(family=FONT, size=size, color=color)))


for s in range(2):
    ann(PANEL_TAGS[s], 8, TAG_Y[s], 28, xanchor="left")
    ann(SPECIES[s], 609, TITLE_Y[s], 35)
    for c in range(4):
        x0, x1 = COL_PX[c]
        ann(TREATMENTS[c], (x0 + x1) / 2, STRIP_Y[s], 18, color="#1A1A1A")
    for r in range(2):
        y0, y1 = ROW_PX[s][r]
        ann(RELEASES[r], 1133, (y0 + y1) / 2, 18, color="#1A1A1A", angle=90)
    ann("Generation", 608.5, GEN_TITLE_Y[s], 24)
    ann("Frequency", 35, FREQ_Y[s], 24, angle=-90)

# legend title as text next to the legend keys
ann(LEGEND_TITLE, 432.5, LEGEND_Y, 25)

fig.update_layout(
    width=W, height=H, template="none",
    margin=dict(l=0, r=0, t=0, b=0, autoexpand=False),
    paper_bgcolor="white", plot_bgcolor="white",
    font=dict(family=FONT, size=18, color="#000000"),
    annotations=annotations,
    legend=dict(orientation="h", x=fx(472), xanchor="left", y=fy(LEGEND_Y), yanchor="middle",
                font=dict(family=FONT, size=18), itemwidth=40,
                entrywidth=32, entrywidthmode="pixels", bgcolor="rgba(0,0,0,0)"),
    **layout_axes,
)

fig.write_html("out.html")
